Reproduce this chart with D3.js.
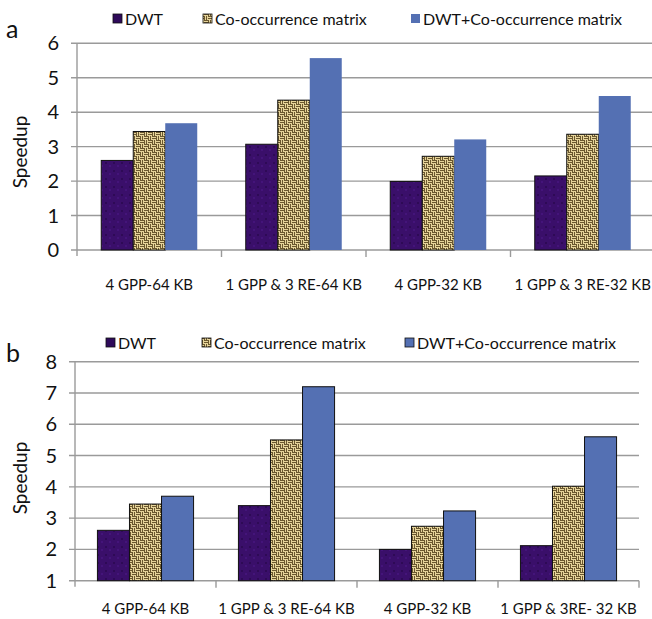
<!DOCTYPE html>
<html><head><meta charset="utf-8">
<script src="https://cdn.jsdelivr.net/npm/d3@7"></script>
<style>body{margin:0;background:#fff}svg{display:block}text{font-family:Lato,"Open Sans",sans-serif;fill:#111}</style>
</head><body>
<script>
const seriesNames = ["DWT", "Co-occurrence matrix", "DWT+Co-occurrence matrix"];
const categoriesA = ["4 GPP-64 KB", "1 GPP & 3 RE-64 KB", "4 GPP-32 KB", "1 GPP & 3 RE-32 KB"];
const dwtA   = [2.6, 3.07, 1.99, 2.15];
const coocA  = [3.44, 4.35, 2.72, 3.36];
const comboA = [3.68, 5.57, 3.21, 4.47];
const ticksA = [0, 1, 2, 3, 4, 5, 6];

const categoriesB = ["4 GPP-64 KB", "1 GPP & 3 RE-64 KB", "4 GPP-32 KB", "1 GPP & 3RE- 32 KB"];
const dwtB   = [2.61, 3.4, 2.0, 2.12];
const coocB  = [3.45, 5.5, 2.74, 4.02];
const comboB = [3.7, 7.2, 3.23, 5.6];
const ticksB = [1, 2, 3, 4, 5, 6, 7, 8];

const W = 652, H = 619;
const svg = d3.select("body").append("svg").attr("width", W).attr("height", H);
const defs = svg.append("defs");

const p1 = defs.append("pattern").attr("id","pDwt").attr("patternUnits","userSpaceOnUse").attr("width",8).attr("height",8);
p1.append("rect").attr("width",8).attr("height",8).attr("fill","#3a0f6a");
p1.append("rect").attr("x",1).attr("y",2).attr("width",2).attr("height",2).attr("fill","#2e0a56");
p1.append("rect").attr("x",5).attr("y",5).attr("width",2).attr("height",2).attr("fill","#44147a");
const p2 = defs.append("pattern").attr("id","pCooc").attr("patternUnits","userSpaceOnUse").attr("width",8).attr("height",8);
p2.append("rect").attr("width",8).attr("height",8).attr("fill","#e6d49a");
const wv = "#5e4a22";
p2.append("path").attr("d","M0,0.5H4 M0,2.5H4 M4,4.5H8 M4,6.5H8 M4.5,0V4 M6.5,0V4 M0.5,4V8 M2.5,4V8").attr("stroke",wv).attr("stroke-width",0.9).attr("fill","none");

const fills = ["url(#pDwt)", "url(#pCooc)", "#5470b3"];
const legendFills = ["#2e0a5a", "url(#pCooc)", "#5470b3"];

function panel(cfg) {
  const g = svg.append("g");
  const y = d3.scaleLinear().domain([cfg.ticks[0], cfg.ticks[cfg.ticks.length-1]]).range([cfg.y0, cfg.y1]);
  const x = d3.scaleBand().domain(cfg.cats).range([cfg.x0, cfg.x1]).padding(0);
  const xs = d3.scaleBand().domain(seriesNames).range([0, x.bandwidth()]).paddingOuter(cfg.po).paddingInner(0);

  g.selectAll(".grid").data(cfg.ticks).join("line")
    .attr("x1", cfg.x0 - 6).attr("x2", cfg.x1)
    .attr("y1", d => y(d)).attr("y2", d => y(d))
    .attr("stroke", "#9a9a9a").attr("stroke-width", 1.4);
  g.append("line").attr("x1", cfg.x0).attr("x2", cfg.x0).attr("y1", y.range()[1]).attr("y2", cfg.y0 + 6)
    .attr("stroke", "#9a9a9a").attr("stroke-width", 1.4);
  const bounds = cfg.cats.map(c => x(c)).concat([cfg.x1]);
  g.selectAll(".xt").data(bounds.slice(1)).join("line")
    .attr("x1", d => d).attr("x2", d => d).attr("y1", cfg.y0).attr("y2", cfg.y0 + 7)
    .attr("stroke", "#9a9a9a").attr("stroke-width", 1.4);
  g.selectAll(".yl").data(cfg.ticks).join("text")
    .attr("x", cfg.x0 - 18).attr("y", d => y(d)).attr("dy", "0.35em")
    .attr("text-anchor", "end").attr("font-size", 20).text(d => d);
  g.append("text").attr("transform", `translate(${cfg.titleX},${cfg.titleY}) rotate(-90)`)
    .attr("text-anchor", "middle").attr("font-size", 19).text("Speedup");
  const series = [cfg.dwt, cfg.cooc, cfg.combo];
  series.forEach((vals, si) => {
    g.selectAll(".b" + si).data(cfg.cats).join("rect")
      .attr("x", c => x(c) + xs(seriesNames[si]))
      .attr("width", xs.bandwidth())
      .attr("y", (c, i) => y(vals[i]))
      .attr("height", (c, i) => cfg.y0 - y(vals[i]))
      .attr("fill", fills[si])
      .attr("stroke", (si < 2 || cfg.outlineAll) ? "#111" : "none")
      .attr("stroke-width", 1);
  });
  g.selectAll(".xl").data(cfg.cats).join("text")
    .attr("x", c => x(c) + x.bandwidth() / 2).attr("y", cfg.labelY)
    .attr("text-anchor", "middle").attr("font-size", 15).text(c => c);
  seriesNames.forEach((s, i) => {
    g.append("rect").attr("x", cfg.legX[i]).attr("y", cfg.legY - 5).attr("width", 9).attr("height", 9)
      .attr("fill", legendFills[i]).attr("stroke", (i < 2 || cfg.outlineAll) ? "#111" : "none").attr("stroke-width", 0.8);
    g.append("text").attr("x", cfg.legX[i] + 12).attr("y", cfg.legY).attr("dy", "0.35em")
      .attr("font-size", 16).text(s);
  });
  g.append("text").attr("x", 6).attr("y", cfg.letterY).attr("font-size", 25).text(cfg.letter);
}

panel({cats: categoriesA, dwt: dwtA, cooc: coocA, combo: comboA, ticks: ticksA,
  x0: 77, x1: 655, y0: 250, y1: 43.3, po: 0.758, outlineAll: false,
  titleX: 27, titleY: 152, labelY: 290, legX: [113, 203, 411], legY: 19, letter: "a", letterY: 38});
panel({cats: categoriesB, dwt: dwtB, cooc: coocB, combo: comboB, ticks: ticksB,
  x0: 75, x1: 639, y0: 580.7, y1: 361.7, po: 0.70, outlineAll: true,
  titleX: 27, titleY: 478, labelY: 614, legX: [106, 202, 405], legY: 343, letter: "b", letterY: 362});
</script>
</body></html>
